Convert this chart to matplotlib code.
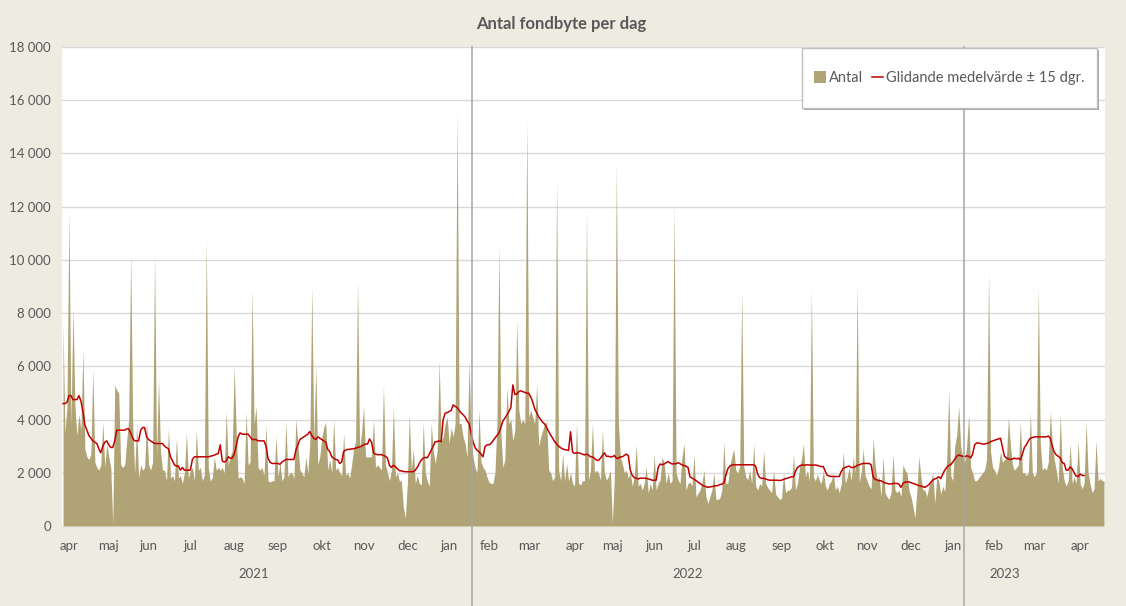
import numpy as np
import pandas as pd
import matplotlib
matplotlib.use('Agg')
import matplotlib.pyplot as plt
from matplotlib.patches import Patch, Rectangle
from matplotlib.lines import Line2D

plt.rcParams['font.family'] = ['Lato', 'DejaVu Sans']

# handelsdagar, svenska börshelgdagar borttagna
helgdagar = ['2021-04-02', '2021-04-05', '2021-05-13', '2021-06-25', '2021-12-24', '2021-12-31',
             '2022-01-06', '2022-04-15', '2022-04-18', '2022-05-26', '2022-06-06', '2022-06-24',
             '2022-12-26', '2023-01-06', '2023-04-07', '2023-04-10']
dagar = pd.bdate_range('2021-03-25', '2023-04-19', freq='C', holidays=helgdagar)

# antal fondbyten per handelsdag
antal = [
    7600, 3500, 4500, 11800, 3800, 8200, 4500, 3400, 4200, 3600,
    6600, 2900, 2600, 2500, 2700, 5900, 2400, 2200, 2100, 2300,
    3900, 2200, 3100, 2600, 2200, 100, 5300, 5100, 5000, 2300,
    2200, 2300, 3200, 4000, 10200, 3900, 2000, 3800, 1800, 2300,
    2100, 2200, 3900, 2300, 2100, 2400, 10200, 2600, 5500, 2800,
    2100, 2100, 1700, 3700, 1800, 1900, 1700, 3300, 1800, 1900,
    1600, 2000, 3500, 1800, 2100, 2200, 1700, 3600, 2100, 2200,
    1700, 1900, 10800, 2200, 1700, 1800, 2600, 2100, 2200, 2100,
    2200, 2000, 4300, 2300, 2600, 2800, 6000, 3600, 1800, 1850,
    1800, 1600, 4300, 2300, 2400, 8900, 3800, 4500, 2200, 2100,
    2200, 1900, 3800, 1700, 1650, 1700, 1700, 3400, 1850, 2400,
    1700, 1850, 3900, 1850, 2000, 2000, 1800, 4000, 3100, 2100,
    2000, 1850, 2600, 2000, 3100, 9000, 3200, 6000, 2300, 2600,
    3300, 3700, 3900, 2100, 2500, 2000, 4000, 2100, 2200, 2000,
    1900, 3500, 1900, 2000, 1800, 2300, 2900, 3200, 9200, 2900,
    3500, 4500, 2600, 2600, 2600, 2600, 4000, 2200, 2300, 2200,
    2100, 5300, 2300, 2000, 1700, 2100, 4500, 1850, 2000, 1700,
    1700, 700, 300, 1600, 4200, 2100, 2900, 1600, 1900, 1600,
    1550, 3900, 2000, 1700, 1500, 3850, 2850, 2350, 2850, 6200,
    3200, 3350, 3850, 4100, 3100, 3700, 3350, 3850, 15600, 3850,
    3850, 3350, 3100, 2600, 6200, 3350, 2600, 2200, 2000, 4350,
    2400, 2200, 2100, 1850, 1650, 1600, 1600, 2000, 3800, 10500,
    3500, 2200, 2500, 5200, 3850, 4000, 3200, 3600, 7750, 4350,
    3850, 4000, 3850, 15250, 4100, 4350, 4100, 3850, 5350, 3000,
    3350, 3600, 3850, 3900, 2100, 2000, 1700, 1850, 13100, 2100,
    1700, 2700, 1700, 2350, 1700, 2000, 1600, 1500, 3900, 1600,
    1550, 1700, 1700, 11900, 1730, 2100, 3850, 2000, 2100, 2000,
    1730, 3600, 2000, 1730, 1850, 2100, 100, 1850, 13600, 3900,
    2600, 2350, 2000, 2100, 1800, 2000, 1500, 1850, 3050, 1500,
    1600, 1350, 1600, 2250, 1230, 1600, 1350, 2700, 1350, 1600,
    1730, 2600, 2350, 1600, 2000, 1600, 1700, 12100, 2000, 1730,
    1600, 2600, 3100, 1350, 1600, 1650, 1500, 2700, 1100, 1230,
    1350, 1600, 2100, 1100, 850, 1100, 1350, 2000, 1000, 1000,
    1050, 1350, 3150, 1600, 1600, 2250, 2600, 2900, 2100, 2000,
    2250, 8850, 2250, 1850, 1730, 2100, 1600, 3100, 1500, 1350,
    1600, 1500, 2850, 1600, 1450, 1350, 1250, 2100, 1200, 1100,
    1000, 1050, 2000, 1250, 1350, 1350, 1450, 2700, 1350, 1600,
    2200, 2500, 3100, 1850, 2100, 1700, 8900, 1850, 1700, 1950,
    1700, 1600, 2100, 1500, 1350, 1600, 1700, 2000, 1350, 1500,
    1250, 1600, 2800, 1600, 1850, 2200, 1700, 2600, 2000, 9100,
    1650, 2000, 2900, 1900, 1700, 1500, 1400, 3300, 2300, 1750,
    1850, 1100, 2600, 1250, 1100, 1000, 1250, 2700, 1350, 1250,
    1350, 1100, 2300, 2100, 2000, 1350, 1100, 750, 300, 1350,
    2600, 1850, 1350, 1350, 1100, 1500, 1700, 2000, 850, 1850,
    1700, 1200, 1500, 1300, 2600, 5100, 1900, 1700, 3000, 3400,
    4500, 3000, 2600, 2400, 3000, 4200, 2200, 2000, 1700, 1700,
    1800, 1900, 2000, 2100, 2500, 9500, 2800, 2200, 2100, 1900,
    2200, 2800, 2400, 2500, 2600, 4100, 3000, 2300, 2100, 2200,
    2300, 3900, 2000, 2000, 1900, 2000, 4300, 2000, 1850, 2000,
    9000, 3100, 2100, 2200, 2100, 2400, 4300, 3100, 2500, 2100,
    1600, 4200, 2200, 1700, 1500, 1700, 3100, 1600, 1850, 1600,
    3200, 1600, 1400, 1600, 3900, 2000, 1600, 1250, 1400, 3200,
    1700, 1800, 1700, 1700,
]

# glidande medelvärde ± 15 dgr (avläst, slutar före sista dagarna)
medel = [
    4600, 4600, 4650, 4900, 4900, 4750, 4750, 4750, 4900, 4700,
    4300, 3800, 3600, 3400, 3300, 3200, 3150, 3100, 2900, 2750,
    3000, 3150, 3200, 3050, 2950, 2950, 3200, 3600, 3600, 3600,
    3600, 3600, 3650, 3650, 3500, 3300, 3200, 3200, 3200, 3600,
    3700, 3700, 3350, 3250, 3200, 3150, 3100, 3100, 3100, 3100,
    3100, 3000, 2950, 2900, 2600, 2450, 2300, 2250, 2250, 2100,
    2200, 2100, 2100, 2100, 2100, 2500, 2600, 2600, 2600, 2600,
    2600, 2600, 2600, 2600, 2620, 2640, 2660, 2700, 2720, 3050,
    2450, 2400, 2450, 2600, 2550, 2550, 2700, 3000, 3350, 3500,
    3450, 3450, 3450, 3450, 3350, 3250, 3250, 3250, 3200, 3200,
    3200, 3200, 3000, 2550, 2400, 2350, 2350, 2350, 2350, 2320,
    2400, 2450, 2500, 2500, 2500, 2500, 2500, 2850, 3050, 3250,
    3300, 3350, 3400, 3450, 3550, 3400, 3300, 3250, 3350, 3300,
    3250, 3200, 3150, 2880, 2800, 2600, 2550, 2500, 2480, 2350,
    2400, 2800, 2850, 2880, 2880, 2900, 2900, 2920, 2950, 2970,
    3000, 3050, 3080, 3080, 3270, 3150, 2750, 2700, 2680, 2680,
    2680, 2650, 2620, 2550, 2280, 2200, 2280, 2230, 2150, 2080,
    2070, 2050, 2040, 2040, 2040, 2040, 2040, 2100, 2200, 2350,
    2480, 2550, 2580, 2560, 2700, 2850, 3000, 3170, 3170, 3200,
    3170, 4000, 4240, 4260, 4300, 4340, 4550, 4500, 4450, 4350,
    4250, 4180, 4100, 3950, 3850, 3500, 3170, 2950, 2850, 2790,
    2700, 2600, 2980, 3050, 3050, 3100, 3200, 3300, 3400, 3500,
    3700, 3950, 4050, 4170, 4300, 4450, 5300, 4950, 4950, 5050,
    5080, 5050, 5020, 4990, 4990, 4850, 4650, 4400, 4250, 4100,
    4000, 3900, 3830, 3700, 3550, 3420, 3300, 3170, 3080, 3000,
    2940, 2900, 2870, 2860, 2840, 3540, 2770, 2730, 2750, 2750,
    2730, 2700, 2670, 2700, 2670, 2600, 2600, 2540, 2480, 2460,
    2550, 2650, 2750, 2620, 2620, 2600, 2600, 2650, 2550, 2540,
    2600, 2600, 2650, 2700, 2650, 2100, 1900, 1820, 1790, 1770,
    1800, 1790, 1800, 1790, 1770, 1750, 1720, 1720, 1720, 2200,
    2330, 2300, 2330, 2380, 2420, 2370, 2330, 2340, 2340, 2380,
    2340, 2300, 2270, 2250, 2200, 1850, 1800, 1760, 1710, 1650,
    1600, 1540, 1500, 1480, 1450, 1470, 1480, 1500, 1510, 1520,
    1560, 1570, 1620, 1900, 2150, 2250, 2290, 2300, 2300, 2300,
    2300, 2300, 2300, 2300, 2300, 2300, 2300, 2300, 2250, 1950,
    1820, 1790, 1790, 1770, 1740, 1720, 1720, 1720, 1720, 1720,
    1710, 1720, 1750, 1780, 1800, 1820, 1850, 1850, 2050, 2200,
    2250, 2290, 2290, 2290, 2300, 2290, 2290, 2290, 2290, 2280,
    2250, 2230, 2230, 2050, 1900, 1880, 1860, 1860, 1860, 1860,
    1860, 2050, 2170, 2200, 2230, 2250, 2200, 2200, 2220, 2280,
    2300, 2330, 2350, 2350, 2350, 2350, 2300, 1850, 1750, 1730,
    1700, 1700, 1650, 1620, 1600, 1580, 1580, 1600, 1600, 1600,
    1570, 1450, 1600, 1650, 1650, 1660, 1630, 1600, 1580, 1550,
    1520, 1500, 1480, 1450, 1500, 1550, 1650, 1720, 1770, 1800,
    1850, 1780, 1950, 2100, 2200, 2280, 2300, 2400, 2500, 2620,
    2670, 2640, 2620, 2600, 2640, 2620, 2560, 2700, 3050, 3120,
    3120, 3100, 3080, 3080, 3100, 3120, 3170, 3200, 3220, 3250,
    3270, 3300, 2950, 2620, 2560, 2520, 2500, 2520, 2550, 2520,
    2550, 2480, 2700, 2950, 3050, 3200, 3300, 3320, 3350, 3350,
    3350, 3350, 3350, 3350, 3350, 3380, 3300, 3000, 2780, 2670,
    2620, 2560, 2380, 2350, 2100, 2100, 2220, 2150, 2000, 1880,
    1860, 1950, 1900, 1900,
]

manader = ['jan', 'feb', 'mar', 'apr', 'maj', 'jun', 'jul', 'aug', 'sep', 'okt', 'nov', 'dec']
# årsetiketter och avdelare (så som de sitter i originalet)
ar_etiketter = [('2021', '2021-08-12'), ('2022', '2022-06-23'), ('2023', '2023-02-06')]
avdelare = ['2022-01-18', '2023-01-09']

dagar = dagar[:len(antal)]
pos = pd.Series(np.arange(len(dagar)), index=dagar)

grå = '#595959'
fig = plt.figure(figsize=(11.26, 6.06), dpi=100, facecolor='#EEEBE0')
ax = fig.add_axes([62 / 1126, 80 / 606, 1043 / 1126, 479 / 606])
ax.set_facecolor('white')

x = np.arange(len(antal))
ax.fill_between(x, antal, 0, color='#B0A477', lw=0, zorder=2)
ax.plot(np.arange(len(medel)), medel, color='#C00000', lw=1.1, zorder=3)

ax.set_xlim(-0.5, len(antal) - 0.5)
ax.set_ylim(0, 18000)
yt = list(range(0, 18001, 2000))
ax.set_yticks(yt)
ax.set_yticklabels([f'{v:,}'.replace(',', ' ') for v in yt])
ax.grid(axis='y', color='#D9D9D9', lw=1, zorder=0)
ax.set_axisbelow(True)
for s in ax.spines.values():
    s.set_visible(False)

# månadsetiketter strax före första handelsdagen i månaden
forsta = pos.groupby([dagar.year, dagar.month]).min()
xt, xl = [], []
for (y, m), i in forsta.items():
    if i == 0:
        continue
    xt.append(i - 2)
    xl.append(manader[m - 1])
ax.set_xticks(xt)
ax.set_xticklabels(xl)
ax.tick_params(axis='y', length=0, colors=grå, labelsize=9.5, pad=8)
ax.tick_params(axis='x', length=0, colors=grå, labelsize=9.5, pad=10)

trans = ax.get_xaxis_transform()
for txt, d in ar_etiketter:
    i = pos.index.get_indexer([pd.Timestamp(d)], method='nearest')[0]
    ax.text(i, -48 / 479, txt, transform=trans, ha='center', va='center',
            fontsize=9.5, color=grå)
for d in avdelare:
    i = pos.index.get_indexer([pd.Timestamp(d)], method='nearest')[0] - 0.5
    ax.plot([i, i], [1, -80 / 479], transform=trans, color='#A6A6A6', lw=1.1,
            clip_on=False, zorder=4)

fig.text(561 / 1126, 1 - 24 / 606, 'Antal fondbyte per dag', ha='center', va='center',
         fontsize=12, fontweight='bold', color=grå)

# legendruta med skugga
fig.patches.append(Rectangle((804 / 1126, 1 - 110 / 606), 295 / 1126, 60 / 606,
                             transform=fig.transFigure, facecolor='#A6A6A6',
                             edgecolor='none', zorder=5))
fig.patches.append(Rectangle((802 / 1126, 1 - 108 / 606), 295 / 1126, 60 / 606,
                             transform=fig.transFigure, facecolor='white',
                             edgecolor='#BFBFBF', lw=1, zorder=6))
handles = [Patch(facecolor='#B0A477', edgecolor='none'),
           Line2D([], [], color='#C00000', lw=1.1)]
leg = fig.legend(handles, ['Antal', 'Glidande medelvärde ± 15 dgr.'], ncol=2,
                 loc='center', bbox_to_anchor=(949.5 / 1126, 1 - 78 / 606),
                 frameon=False, handlelength=0.8, handleheight=0.8,
                 handletextpad=0.2, columnspacing=0.6, fontsize=10.5)
leg.set_zorder(7)
for t in leg.get_texts():
    t.set_color(grå)

fig.savefig('out.png', dpi=100, facecolor=fig.get_facecolor())
